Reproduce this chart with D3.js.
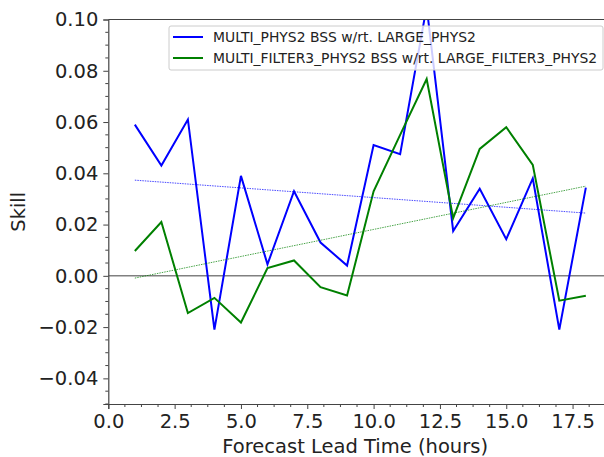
<!DOCTYPE html>
<html>
<head>
<meta charset="utf-8">
<script src="https://cdn.jsdelivr.net/npm/d3@7"></script>
<style>
  body { margin: 0; background: #fff; }
  text { font-family: "DejaVu Sans", sans-serif; fill: #222; }
</style>
</head>
<body>
<div id="chart"></div>
<script>
// lead times (hours)
const leadTimes = [1, 2, 3, 4, 5, 6, 7, 8, 9, 10, 11, 12, 13, 14, 15, 16, 17, 18];
// BSS of MULTI_PHYS2 w/rt. LARGE_PHYS2
const physSkill = [0.059, 0.043, 0.061, -0.021, 0.039, 0.0045, 0.033, 0.013, 0.004,
                   0.051, 0.0475, 0.105, 0.0175, 0.034, 0.0143, 0.038, -0.021, 0.0344];
// BSS of MULTI_FILTER3_PHYS2 w/rt. LARGE_FILTER3_PHYS2
const filterSkill = [0.0097, 0.021, -0.0145, -0.0086, -0.0182, 0.003, 0.006, -0.0044, -0.0077,
                     0.033, 0.055, 0.0768, 0.0225, 0.0495, 0.058, 0.0433, -0.0097, -0.0078];
const seriesNames = ["MULTI_PHYS2 BSS w/rt. LARGE_PHYS2",
                     "MULTI_FILTER3_PHYS2 BSS w/rt. LARGE_FILTER3_PHYS2"];
const seriesColors = ["#0000ff", "#008000"];
const xTicks = [0, 2.5, 5, 7.5, 10, 12.5, 15, 17.5];
const yTicks = [-0.04, -0.02, 0, 0.02, 0.04, 0.06, 0.08, 0.10];

const W = 604, H = 457;
const margin = {top: 19.5, left: 108.3, bottom: 53};
const plotBottom = H - margin.bottom;

const svg = d3.select("#chart").append("svg")
  .attr("width", W).attr("height", H);

const x = d3.scaleLinear().domain([0, 19]).range([margin.left, margin.left + 19 * 26.53]);
const y = d3.scaleLinear().domain([-0.05, 0.10]).range([plotBottom, margin.top]);

svg.append("clipPath").attr("id", "clip")
  .append("rect")
  .attr("x", x(0)).attr("y", y(0.10))
  .attr("width", x(19) - x(0)).attr("height", y(-0.05) - y(0.10));

const plot = svg.append("g").attr("clip-path", "url(#clip)");

// zero line
plot.append("line")
  .attr("x1", x(0)).attr("x2", x(19))
  .attr("y1", y(0)).attr("y2", y(0))
  .attr("stroke", "#808080").attr("stroke-width", 1.5);

const line = d3.line().x((d, i) => x(leadTimes[i])).y(d => y(d));

// least squares trend line for a series
function fit(vals) {
  const mx = d3.mean(leadTimes), my = d3.mean(vals);
  let num = 0, den = 0;
  leadTimes.forEach((t, i) => { num += (t - mx) * (vals[i] - my); den += (t - mx) * (t - mx); });
  const b = num / den;
  return leadTimes.map(t => my + b * (t - mx));
}

[physSkill, filterSkill].forEach((vals, k) => {
  plot.append("path")
    .attr("d", line(vals))
    .attr("fill", "none")
    .attr("stroke", seriesColors[k])
    .attr("stroke-width", 2);
});

[physSkill, filterSkill].forEach((vals, k) => {
  plot.append("path")
    .attr("d", line(fit(vals)))
    .attr("fill", "none")
    .attr("stroke", seriesColors[k])
    .attr("stroke-width", 0.9)
    .attr("stroke-dasharray", "1.5,1")
    .attr("opacity", 0.8);
});

// axes
const xAxis = d3.axisBottom(x).tickValues(xTicks).tickFormat(d3.format(".1f")).tickSize(5).tickPadding(5);
const yAxis = d3.axisLeft(y).tickValues(yTicks).tickFormat(d => d3.format(".2f")(d).replace("-", "\u2212")).tickSize(5).tickPadding(5);

const gx = svg.append("g").attr("transform", `translate(0,${plotBottom})`).call(xAxis);
const gy = svg.append("g").attr("transform", `translate(${margin.left},0)`).call(yAxis);

// minor ticks
const xMinor = d3.range(0, 19, 0.625).filter(v => !xTicks.some(t => Math.abs(t - v) < 1e-6));
const yMinor = d3.range(-0.05, 0.1001, 0.005).filter(v => !yTicks.some(t => Math.abs(t - v) < 1e-6));
svg.append("g").selectAll("line").data(xMinor).join("line")
  .attr("x1", d => x(d)).attr("x2", d => x(d))
  .attr("y1", plotBottom).attr("y2", plotBottom + 3)
  .attr("stroke", "#444");
svg.append("g").selectAll("line").data(yMinor).join("line")
  .attr("x1", margin.left).attr("x2", margin.left - 3)
  .attr("y1", d => y(d)).attr("y2", d => y(d))
  .attr("stroke", "#444");

[gx, gy].forEach(g => {
  g.selectAll(".domain").attr("stroke", "#444").attr("stroke-width", 1.2);
  g.selectAll(".tick line").attr("stroke", "#444");
  g.selectAll(".tick text").attr("font-size", 19.5).attr("font-family", "DejaVu Sans").attr("fill", "#222");
});

// top spine
svg.append("line")
  .attr("x1", x(0)).attr("x2", W)
  .attr("y1", y(0.10)).attr("y2", y(0.10))
  .attr("stroke", "#444").attr("stroke-width", 1.2);

// labels
svg.append("text")
  .attr("x", (margin.left + 592) / 2 + 5).attr("y", H - 4)
  .attr("text-anchor", "middle").attr("font-size", 19.5)
  .text("Forecast Lead Time (hours)");
svg.append("text")
  .attr("transform", `translate(25,${y(0.025)}) rotate(-90)`)
  .attr("text-anchor", "middle").attr("font-size", 19.5)
  .text("Skill");

// legend
const lg = svg.append("g");
lg.append("rect")
  .attr("x", 169).attr("y", 26).attr("width", 434).attr("height", 44)
  .attr("rx", 2)
  .attr("fill", "#fff").attr("fill-opacity", 0.8)
  .attr("stroke", "#ccc");
seriesNames.forEach((name, i) => {
  const cy = 37 + i * 21;
  lg.append("line")
    .attr("x1", 173).attr("x2", 203).attr("y1", cy).attr("y2", cy)
    .attr("stroke", seriesColors[i]).attr("stroke-width", 2);
  lg.append("text")
    .attr("x", 213).attr("y", cy).attr("dy", "0.36em")
    .attr("font-size", 13.9)
    .text(name);
});
</script>
</body>
</html>
